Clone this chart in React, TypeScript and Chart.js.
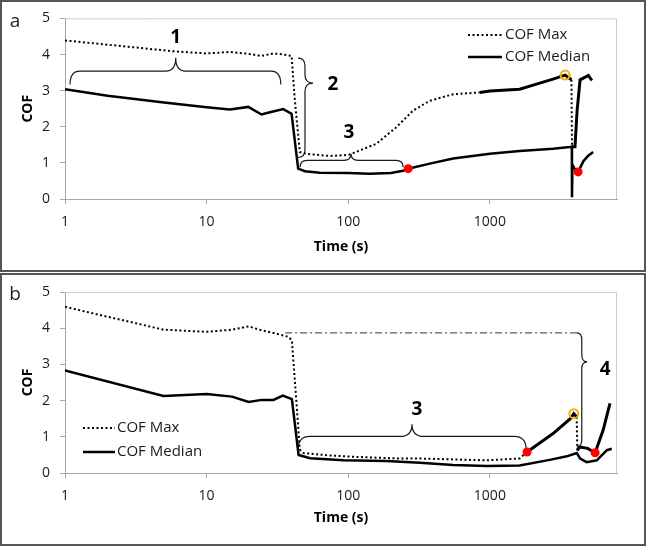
import React, { useEffect, useRef } from 'react';
import { Chart, registerables } from 'chart.js';

Chart.register(...registerables);

const FONT = "'Open Sans', 'DejaVu Sans', sans-serif";

// ---- shared axes ----
const xTickValues = [1, 10, 100, 1000];
const xTickLabels = ['1', '10', '100', '1000'];
const yTickValues = [0, 1, 2, 3, 4, 5];
const seriesNames = ['COF Max', 'COF Median'];
const xAxisTitle = 'Time (s)';
const yAxisTitle = 'COF';

// ---- panel a ----
const aMedianTime = [1, 2, 5, 10, 14.6, 19.7, 24.4, 28, 34.7, 39.8, 44.3, 49.4, 63, 100, 142, 200, 244, 265, 377, 550, 1000, 1622, 2793, 3664, 3790, 3800, 3830, 3950, 4200, 4580, 4950, 5360];
const aMedianCof = [3.04, 2.86, 2.67, 2.54, 2.48, 2.55, 2.34, 2.4, 2.49, 2.36, 0.84, 0.77, 0.73, 0.72, 0.7, 0.72, 0.78, 0.84, 0.98, 1.12, 1.25, 1.33, 1.39, 1.44, 1.45, 0.05, 0.95, 0.85, 0.75, 1.05, 1.2, 1.3];
const aMaxTime = [1, 5.8, 10, 14.6, 19.7, 24.4, 29.5, 35, 39.8, 42, 45.5, 50.7, 74, 100, 108, 158, 219, 287, 377, 550, 849, 1000, 1622, 2133, 2793, 3400, 3767, 3800, 3990, 4130, 4335, 4965, 5250];
const aMaxCof = [4.39, 4.09, 4.03, 4.07, 4.02, 3.96, 4.03, 4.0, 3.96, 2.72, 1.3, 1.25, 1.19, 1.22, 1.27, 1.53, 1.99, 2.45, 2.72, 2.9, 2.95, 2.99, 3.04, 3.18, 3.32, 3.43, 3.3, 1.45, 1.45, 2.45, 3.3, 3.42, 3.28];
const aOnsetTime = [265, 4200];
const aOnsetCof = [0.84, 0.75];
const aPeakTime = [3400];
const aPeakCof = [3.43];

// ---- panel b ----
const bMedianTime = [1, 4.95, 10, 15.1, 19.8, 24.5, 29.6, 34.5, 40, 44.6, 53.8, 92.6, 186, 321, 550, 955, 1622, 2700, 3490, 4110, 4335, 4830, 5690, 6700, 7260];
const bMedianCof = [2.83, 2.13, 2.18, 2.11, 1.96, 2.02, 2.02, 2.14, 2.04, 0.5, 0.41, 0.35, 0.33, 0.28, 0.22, 0.19, 0.21, 0.37, 0.46, 0.55, 0.4, 0.3, 0.35, 0.63, 0.67];
const bMaxTime = [1, 4.95, 10, 15.1, 19.8, 24.5, 29.6, 37.9, 40, 42.8, 45.5, 48.3, 70.6, 121, 233, 321, 955, 1622, 1830, 2793, 3700, 3917, 4100, 4150, 4300, 4900, 5535, 6300, 7050];
const bMaxCof = [4.59, 3.96, 3.9, 3.96, 4.05, 3.94, 3.87, 3.76, 3.66, 2.1, 0.65, 0.55, 0.49, 0.44, 0.4, 0.4, 0.35, 0.4, 0.58, 1.09, 1.5, 1.64, 1.55, 0.62, 0.72, 0.68, 0.56, 1.18, 1.92];
const bOnsetTime = [1830, 5535];
const bOnsetCof = [0.58, 0.56];
const bPeakTime = [3917];
const bPeakCof = [1.64];

// ---- annotations (in data coordinates) ----
const aBraces = [
  { kind: 'h', x1: 1.085, x2: 33.4, xm: 6.05, yEnd: 3.17, yBar: 3.54, yTip: 3.91, r: 10 },
  { kind: 'v', y1: 3.9, y2: 1.15, ym: 3.21, xEnd: 44.2, xBar: 49.5, xTip: 56.4, r: 8 },
  { kind: 'h', x1: 45.7, x2: 244, xm: 104.6, yEnd: 0.88, yBar: 1.07, yTip: 1.25, r: 7 },
];
const aLabels = [
  { text: '1', x: 6.05, y: 4.46 },
  { text: '2', x: 78.1, y: 3.16 },
  { text: '3', x: 101, y: 1.85 },
];
const bBraces = [
  { kind: 'v', y1: 3.87, y2: 0.72, ym: 3.07, xEnd: 4110, xBar: 4456, xTip: 4858, r: 7 },
  { kind: 'h', x1: 44.2, x2: 1803, xm: 282, yEnd: 0.65, yBar: 1.01, yTip: 1.35, r: 12 },
];
const bLabels = [
  { text: '4', x: 6510, y: 2.86 },
  { text: '3', x: 305, y: 1.76 },
];
const bDashLine = { x1: 35.8, x2: 4110, y: 3.87 };

const pts = (xs: number[], ys: number[]) => xs.map((x, i) => ({ x, y: ys[i] }));

const DOT = [2, 2.5];

function makePanel(canvas: HTMLCanvasElement, p: any) {
  const axisColor = '#a6a6a6';
  const tickFont = { family: FONT, size: 14 };
  const isSolid = (ctx: any) => {
    const x0 = ctx.p0.parsed.x;
    const dy = ctx.p1.parsed.y - ctx.p0.parsed.y;
    return x0 >= p.solidFrom && dy > -0.6;
  };
  const plugin = {
    id: 'annot',
    beforeDatasetsDraw(chart: any) {
      const { ctx, chartArea: ca, scales } = chart;
      const X = (v: number) => scales.x.getPixelForValue(v);
      const Y = (v: number) => scales.y.getPixelForValue(v);
      ctx.save();
      ctx.strokeStyle = '#cccccc';
      ctx.lineWidth = 1;
      ctx.beginPath();
      ctx.moveTo(ca.left, ca.top + 0.5);
      ctx.lineTo(ca.right - 0.5, ca.top + 0.5);
      ctx.lineTo(ca.right - 0.5, ca.bottom);
      ctx.stroke();
      if (p.dashLine) {
        ctx.strokeStyle = '#333';
        ctx.lineWidth = 1;
        ctx.setLineDash([7, 3, 2, 3]);
        ctx.beginPath();
        ctx.moveTo(X(p.dashLine.x1), Y(p.dashLine.y));
        ctx.lineTo(X(p.dashLine.x2), Y(p.dashLine.y));
        ctx.stroke();
        ctx.setLineDash([]);
      }
      ctx.strokeStyle = '#1a1a1a';
      ctx.lineWidth = 1.2;
      for (const b of p.braces) {
        const r = b.r;
        ctx.beginPath();
        if (b.kind === 'h') {
          const X1 = X(b.x1), X2 = X(b.x2), XM = X(b.xm);
          const YE = Y(b.yEnd), YB = Y(b.yBar), YT = Y(b.yTip);
          ctx.moveTo(X1, YE);
          ctx.quadraticCurveTo(X1, YB, X1 + r, YB);
          ctx.lineTo(XM - r, YB);
          ctx.quadraticCurveTo(XM, YB, XM, YT);
          ctx.quadraticCurveTo(XM, YB, XM + r, YB);
          ctx.lineTo(X2 - r, YB);
          ctx.quadraticCurveTo(X2, YB, X2, YE);
        } else {
          const XE = X(b.xEnd), XB = X(b.xBar), XT = X(b.xTip);
          const Y1 = Y(b.y1), Y2 = Y(b.y2), YM = Y(b.ym);
          ctx.moveTo(XE, Y1);
          ctx.quadraticCurveTo(XB, Y1, XB, Y1 + r);
          ctx.lineTo(XB, YM - r);
          ctx.quadraticCurveTo(XB, YM, XT, YM);
          ctx.quadraticCurveTo(XB, YM, XB, YM + r);
          ctx.lineTo(XB, Y2 - r);
          ctx.quadraticCurveTo(XB, Y2, XE, Y2);
        }
        ctx.stroke();
      }
      ctx.restore();
    },
    afterDatasetsDraw(chart: any) {
      const { ctx, scales } = chart;
      const X = (v: number) => scales.x.getPixelForValue(v);
      const Y = (v: number) => scales.y.getPixelForValue(v);
      ctx.save();
      ctx.fillStyle = '#000';
      ctx.textAlign = 'center';
      ctx.textBaseline = 'middle';
      ctx.font = `bold 19px ${FONT}`;
      for (const l of p.labels) ctx.fillText(l.text, X(l.x), Y(l.y));
      ctx.fillStyle = '#222';
      ctx.font = `19px ${FONT}`;
      ctx.fillText(p.letter, 15, 22);
      const L = p.legend;
      ctx.strokeStyle = '#000';
      ctx.lineWidth = 2;
      ctx.setLineDash(DOT);
      ctx.beginPath();
      ctx.moveTo(L.x1, L.yMax);
      ctx.lineTo(L.x2, L.yMax);
      ctx.stroke();
      ctx.setLineDash([]);
      ctx.lineWidth = 2.5;
      ctx.beginPath();
      ctx.moveTo(L.x1, L.yMed);
      ctx.lineTo(L.x2, L.yMed);
      ctx.stroke();
      ctx.fillStyle = '#1a1a1a';
      ctx.textAlign = 'left';
      ctx.font = `15px ${FONT}`;
      ctx.fillText(seriesNames[0], L.textX, L.yMax);
      ctx.fillText(seriesNames[1], L.textX, L.yMed);
      ctx.restore();
    },
  };

  return new Chart(canvas, {
    type: 'scatter',
    data: {
      datasets: [
        {
          label: 'onset',
          data: pts(p.onsetT, p.onsetV),
          pointRadius: 4.5,
          pointBackgroundColor: '#ff0000',
          pointBorderColor: '#ff0000',
          pointBorderWidth: 0,
          showLine: false,
          order: 0,
        },
        {
          label: 'peak',
          data: pts(p.peakT, p.peakV),
          pointRadius: 4.5,
          pointBackgroundColor: 'rgba(0,0,0,0)',
          pointBorderColor: '#f2b200',
          pointBorderWidth: 2,
          showLine: false,
          order: 0,
        },
        {
          label: seriesNames[0],
          data: pts(p.maxT, p.maxV),
          showLine: true,
          pointRadius: 0,
          borderColor: '#000',
          borderWidth: 2,
          borderDash: DOT,
          segment: {
            borderDash: (ctx: any) => (isSolid(ctx) ? [] : DOT),
            borderWidth: (ctx: any) => (isSolid(ctx) ? 3 : 2),
          },
          order: 1,
        },
        {
          label: seriesNames[1],
          data: pts(p.medT, p.medV),
          showLine: true,
          pointRadius: 0,
          borderColor: '#000',
          borderWidth: 2.5,
          order: 2,
        },
      ],
    },
    options: {
      animation: false,
      responsive: false,
      devicePixelRatio: 1,
      events: [],
      layout: { padding: { top: p.padTop, right: 29, left: 0, bottom: 0 } },
      plugins: { legend: { display: false }, tooltip: { enabled: false }, title: { display: false } },
      scales: {
        x: {
          type: 'logarithmic',
          min: 1,
          max: 7900,
          afterBuildTicks: (s: any) => {
            s.ticks = xTickValues.map((v) => ({ value: v }));
          },
          afterFit: (s: any) => {
            s.height = p.xAxisHeight;
          },
          ticks: {
            callback: (_v: any, i: number) => xTickLabels[i],
            font: tickFont,
            color: '#1a1a1a',
            padding: 10,
            maxRotation: 0,
            autoSkip: false,
          },
          grid: { drawOnChartArea: false, drawTicks: true, tickLength: 5, color: axisColor },
          border: { display: true, color: axisColor, width: 1 },
          title: {
            display: true,
            text: xAxisTitle,
            font: { family: FONT, size: 14, weight: 'bold' },
            color: '#000',
            padding: { top: 0, bottom: p.xTitlePad },
          },
        },
        y: {
          type: 'linear',
          min: 0,
          max: 5,
          afterBuildTicks: (s: any) => {
            s.ticks = yTickValues.map((v) => ({ value: v }));
          },
          afterFit: (s: any) => {
            s.width = 65;
          },
          ticks: { font: tickFont, color: '#1a1a1a', padding: 10 },
          grid: { drawOnChartArea: false, drawTicks: true, tickLength: 5, color: axisColor },
          border: { display: true, color: axisColor, width: 1 },
          title: {
            display: true,
            text: yAxisTitle,
            font: { family: FONT, size: 14, weight: 'bold' },
            color: '#000',
            padding: { top: 20, bottom: 0 },
          },
        },
      },
    },
    plugins: [plugin],
  } as any);
}

export default function App() {
  const refA = useRef<HTMLCanvasElement>(null);
  const refB = useRef<HTMLCanvasElement>(null);

  useEffect(() => {
    const ca = makePanel(refA.current!, {
      medT: aMedianTime, medV: aMedianCof, maxT: aMaxTime, maxV: aMaxCof,
      onsetT: aOnsetTime, onsetV: aOnsetCof, peakT: aPeakTime, peakV: aPeakCof,
      braces: aBraces, labels: aLabels, dashLine: null, letter: 'a',
      legend: { x1: 468, x2: 502, yMax: 35, yMed: 57, textX: 505 },
      padTop: 17, xAxisHeight: 73, xTitlePad: 16.6, solidFrom: 800,
    });
    const cb = makePanel(refB.current!, {
      medT: bMedianTime, medV: bMedianCof, maxT: bMaxTime, maxV: bMaxCof,
      onsetT: bOnsetTime, onsetV: bOnsetCof, peakT: bPeakTime, peakV: bPeakCof,
      braces: bBraces, labels: bLabels, dashLine: bDashLine, letter: 'b',
      legend: { x1: 83, x2: 115, yMax: 155, yMed: 179, textX: 117 },
      padTop: 19, xAxisHeight: 73, xTitlePad: 19.3, solidFrom: 1830,
    });
    return () => {
      ca.destroy();
      cb.destroy();
    };
  }, []);

  const box: React.CSSProperties = {
    position: 'absolute', left: 0, width: 646, border: '2px solid #555',
    boxSizing: 'border-box', pointerEvents: 'none',
  };
  return (
    <div style={{ position: 'absolute', left: 0, top: 0, width: 649, height: 546, background: '#fff' }}>
      <canvas ref={refA} width={646} height={272} style={{ position: 'absolute', left: 0, top: 0 }} />
      <div style={{ ...box, top: 0, height: 272 }} />
      <canvas ref={refB} width={646} height={273} style={{ position: 'absolute', left: 0, top: 273 }} />
      <div style={{ ...box, top: 273, height: 273 }} />
    </div>
  );
}
